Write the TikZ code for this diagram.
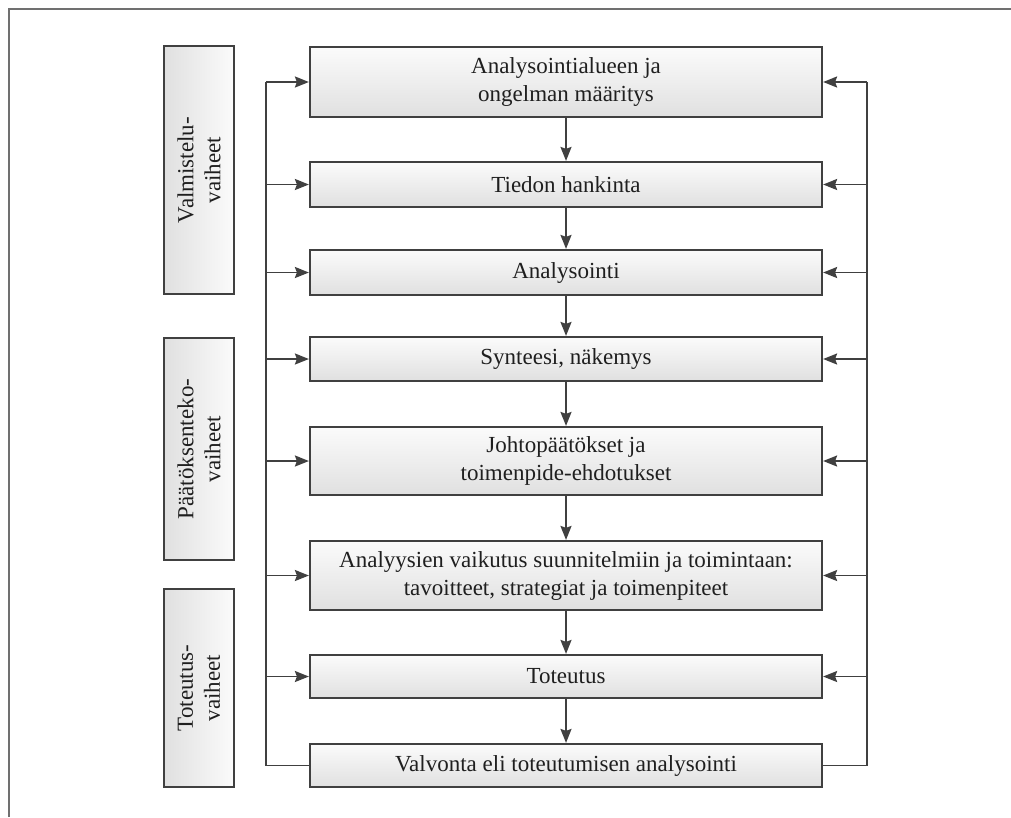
\documentclass[tikz,border=0pt]{standalone}
\usepackage{fontspec}
\setmainfont{Liberation Serif}
\usetikzlibrary{arrows.meta}
\definecolor{ln}{HTML}{404040}
\definecolor{fr}{HTML}{707070}
\definecolor{ftop}{HTML}{FBFBFB}
\definecolor{fbot}{HTML}{E0E0E0}
\begin{document}
\begin{tikzpicture}[x=1pt,y=-1pt,
  mainbox/.style={draw=ln, line width=2.2pt, top color=ftop, bottom color=fbot,
    minimum width=512pt, align=center, inner sep=0pt,
    font=\fontsize{23}{28}\selectfont, text=black!88},
  phasebox/.style={draw=ln, line width=2.2pt, rotate=90, left color=fbot, right color=ftop,
    minimum height=70pt, align=center, inner sep=0pt,
    font=\fontsize{23}{27}\selectfont, text=black!88},
  conn/.style={draw=ln, line width=1.9pt},
  arr/.style={conn, -{Stealth[length=14pt,width=11pt,inset=2pt]}}
]
\useasboundingbox (0,0) rectangle (1011,817);
% frame
\draw[fr, line width=2.5pt] (9,817) -- (9,9) -- (1011,9);

% main boxes
\node[mainbox, minimum height=70pt] (b1) at (566,82) {Analysointialueen ja\\ongelman määritys};
\node[mainbox, minimum height=45pt] (b2) at (566,184.5) {Tiedon hankinta};
\node[mainbox, minimum height=45pt] (b3) at (566,272.5) {Analysointi};
\node[mainbox, minimum height=44pt] (b4) at (566,359) {Synteesi, näkemys};
\node[mainbox, minimum height=68pt] (b5) at (566,461) {Johtopäätökset ja\\toimenpide-ehdotukset};
\node[mainbox, minimum height=69pt] (b6) at (566,575.5) {Analyysien vaikutus suunnitelmiin ja toimintaan:\\tavoitteet, strategiat ja toimenpiteet};
\node[mainbox, minimum height=43pt] (b7) at (566,676.5) {Toteutus};
\node[mainbox, minimum height=43pt] (b8) at (566,765.5) {Valvonta eli toteutumisen analysointi};

% phase boxes
\node[phasebox, minimum width=248pt] (p1) at (199,170) {Valmistelu-\\vaiheet};
\node[phasebox, minimum width=222pt] (p2) at (199,449) {Päätöksenteko-\\vaiheet};
\node[phasebox, minimum width=198pt] (p3) at (199,688) {Toteutus-\\vaiheet};

% down arrows
\foreach \a/\b in {b1/b2,b2/b3,b3/b4,b4/b5,b5/b6,b6/b7,b7/b8}
  \draw[arr] (\a.south) -- (\b.north);

% feedback lines
\coordinate (lb) at (266,765.5);
\coordinate (lt) at (266,82);
\coordinate (rb) at (867,765.5);
\coordinate (rt) at (867,82);
\draw[conn] (b8.west) -- (lb) -- (lt);
\draw[conn] (b8.east) -- (rb) -- (rt);
\foreach \b in {b1,b2,b3,b4,b5,b6,b7} {
  \draw[arr] (lb |- \b.west) -- (\b.west);
  \draw[arr] (rb |- \b.east) -- (\b.east);
}
\end{tikzpicture}
\end{document}
